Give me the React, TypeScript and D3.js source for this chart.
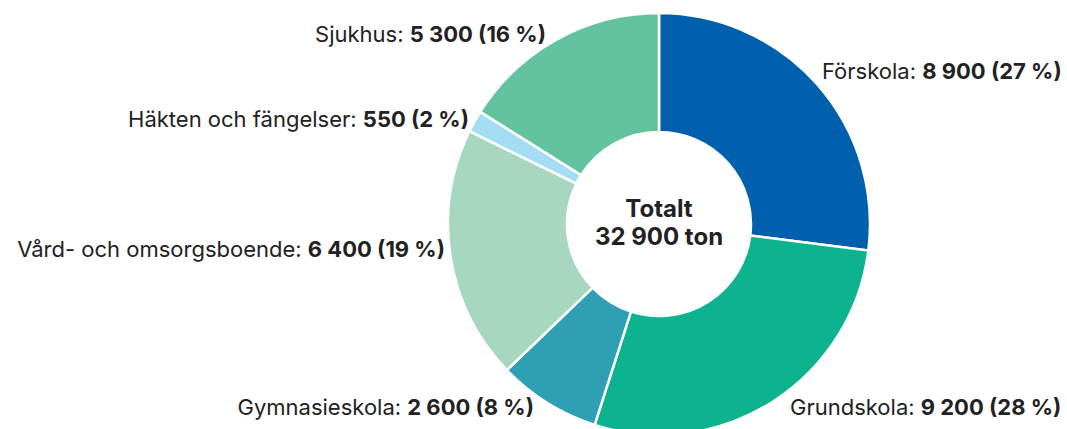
import { useEffect, useRef } from 'react';
import * as d3 from 'd3';

const categories = ['Förskola', 'Grundskola', 'Gymnasieskola', 'Vård- och omsorgsboende', 'Häkten och fängelser', 'Sjukhus'];
const values = [8900, 9200, 2600, 6400, 550, 5300];
const valueLabels = ['8 900', '9 200', '2 600', '6 400', '550', '5 300'];
const percentLabels = ['27 %', '28 %', '8 %', '19 %', '2 %', '16 %'];
const colors = ['#0060ae', '#0db38f', '#2f9fb4', '#a7d8bf', '#a3dcf3', '#63c39e'];
const totalLines = ['Totalt', '32 900 ton'];

// label placement (start/end x, baseline y, anchor)
const labelLayout = [
  { x: 822, y: 79, anchor: 'start' },
  { x: 790, y: 415, anchor: 'start' },
  { x: 534, y: 415, anchor: 'end' },
  { x: 445, y: 257, anchor: 'end' },
  { x: 469, y: 127, anchor: 'end' },
  { x: 546, y: 42, anchor: 'end' },
];

const App = () => {
  const ref = useRef<SVGSVGElement>(null);

  useEffect(() => {
    const svg = d3.select(ref.current);
    svg.selectAll('*').remove();

    const cx = 659, cy = 224, outerR = 211, innerR = 92;

    const data = categories.map((c, i) => ({ name: c, value: values[i], i }));
    const pie = d3.pie<any>().value(d => d.value).sort(null);
    const arc = d3.arc<any>().innerRadius(innerR).outerRadius(outerR);

    const g = svg.append('g').attr('transform', `translate(${cx},${cy})`);
    g.selectAll('path')
      .data(pie(data))
      .enter()
      .append('path')
      .attr('d', arc)
      .attr('fill', d => colors[d.data.i])
      .attr('stroke', '#fff')
      .attr('stroke-width', 2.5);

    const lbl = svg.selectAll('text.lbl')
      .data(data)
      .enter()
      .append('text')
      .attr('class', 'lbl')
      .attr('x', d => labelLayout[d.i].x)
      .attr('y', d => labelLayout[d.i].y)
      .attr('text-anchor', d => labelLayout[d.i].anchor)
      .attr('font-family', 'Inter, sans-serif')
      .attr('font-size', 22)
      .attr('fill', '#222');
    lbl.append('tspan').text(d => d.name + ': ');
    lbl.append('tspan').attr('font-weight', 700).text(d => `${valueLabels[d.i]} (${percentLabels[d.i]})`);

    svg.selectAll('text.tot')
      .data(totalLines)
      .enter()
      .append('text')
      .attr('class', 'tot')
      .attr('x', cx)
      .attr('y', (d, i) => 217 + i * 28)
      .attr('text-anchor', 'middle')
      .attr('font-family', 'Inter, sans-serif')
      .attr('font-size', 24)
      .attr('font-weight', 700)
      .attr('fill', '#222')
      .text(d => d);
  }, []);

  return <svg ref={ref} width={1067} height={429} style={{ position: 'absolute', left: 0, top: 0 }} />;
};

export default App;
